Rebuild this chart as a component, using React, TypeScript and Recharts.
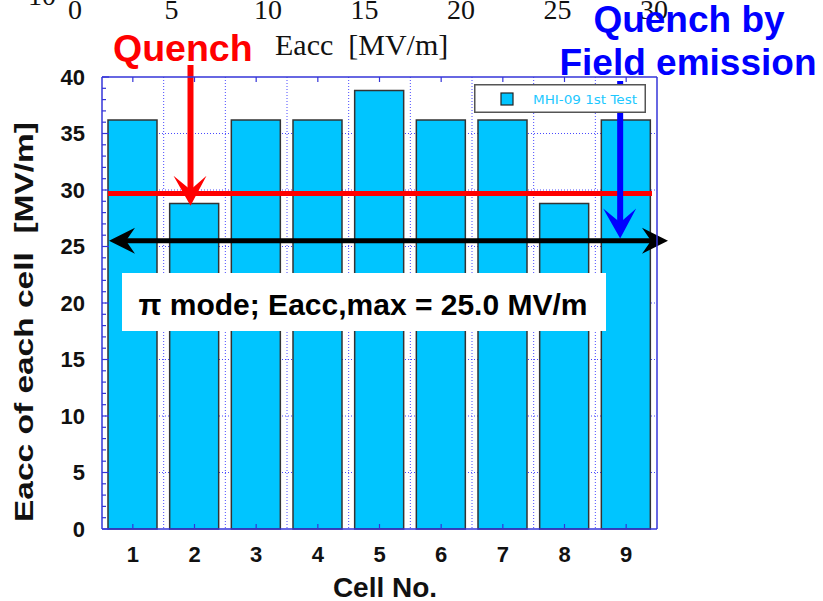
import React from 'react';
import { BarChart, Bar, XAxis, YAxis, CartesianGrid, ReferenceLine, Legend } from 'recharts';

// cell number vs accelerating field reached in that cell
const cells = ['1', '2', '3', '4', '5', '6', '7', '8', '9'];
const eaccPerCell = [36.2, 28.8, 36.2, 36.2, 38.8, 36.2, 36.2, 28.8, 36.2];

const yMax = 40;
const yMinorTicks = Array.from({ length: yMax + 1 }, (_, i) => i);
const yGridValues = [5, 10, 15, 20, 25, 30, 35];

// annotation levels (MV/m)
const quenchLevel = 29.7;
const eaccMaxLevel = 25.5;
const quenchCell = '2';
const quenchTip = 28.6;
const feCell = '9';
const feTip = 25.7;

// leftover top axis from the slide
const strayTopTicks = ['0', '5', '10', '15', '20', '25', '30'];

const data = cells.map((c, i) => ({ cell: c, eacc: eaccPerCell[i] }));

const AXIS = '#3434d8';
const GRID = '#4a4aff';
const FILL = '#00c5ff';
const SANS = '"Liberation Sans", Arial, sans-serif';
const SERIF = '"Liberation Serif", "Times New Roman", serif';

const Y_MARGIN = 17;
const X_MARGIN = 17;

const LeftTick = (props: any) => {
  const { x, y, payload } = props;
  const v = payload.value;
  const major = v % 5 === 0;
  const ax = x + Y_MARGIN;
  return (
    <g>
      <line x1={ax} x2={ax + (major ? 7 : 4)} y1={y} y2={y} stroke={AXIS} strokeWidth={1.2} />
      {major && (
        <text x={x} y={y} dy="0.36em" textAnchor="end" fontFamily={SANS} fontWeight="bold" fontSize={22} fill="#111">
          {v}
        </text>
      )}
    </g>
  );
};

const RightTick = (props: any) => {
  const { x, y, payload } = props;
  const major = payload.value % 5 === 0;
  return <line x1={x} x2={x - (major ? 7 : 4)} y1={y} y2={y} stroke={AXIS} strokeWidth={1.2} />;
};

const BottomTick = (props: any) => {
  const { x, y, payload } = props;
  const ay = y - X_MARGIN;
  return (
    <g>
      <line x1={x} x2={x} y1={ay} y2={ay - 5} stroke={AXIS} strokeWidth={1.2} />
      <text x={x} y={y} dy="0.72em" textAnchor="middle" fontFamily={SANS} fontWeight="bold" fontSize={22} fill="#111">
        {payload.value}
      </text>
    </g>
  );
};

const TopTick = (props: any) => {
  const { x, y } = props;
  const ay = y + 2;
  return <line x1={x} x2={x} y1={ay} y2={ay + 5} stroke={AXIS} strokeWidth={1.2} />;
};

const downArrow = (color: string, dx: number, over: number) => (p: any) => {
  const x = p.x1 + dx;
  const top = Math.min(p.y1, p.y2) - over;
  const tip = Math.max(p.y1, p.y2);
  return (
    <g>
      <line x1={x} x2={x} y1={top} y2={tip - 14} stroke={color} strokeWidth={6} />
      <polygon points={`${x - 17},${tip - 30} ${x},${tip} ${x + 16},${tip - 30} ${x},${tip - 16}`} fill={color} />
    </g>
  );
};

const redLine = (p: any) => (
  <line x1={p.x1 + 6} x2={p.x2 - 5} y1={p.y1} y2={p.y2} stroke="#ff0000" strokeWidth={5} />
);

const doubleArrow = (p: any) => {
  const y = p.y1;
  const l = p.x1 + 7;
  const r = p.x2 + 11;
  return (
    <g>
      <line x1={l + 12} x2={r - 12} y1={y} y2={y} stroke="#000" strokeWidth={5} />
      <polygon points={`${l},${y} ${l + 26},${y - 13} ${l + 17},${y} ${l + 26},${y + 13}`} fill="#000" />
      <polygon points={`${r},${y} ${r - 26},${y - 13} ${r - 17},${y} ${r - 26},${y + 13}`} fill="#000" />
    </g>
  );
};

const LegendBox = () => (
  <svg width={172} height={29} style={{ display: 'block' }}>
    <rect x={0.75} y={0.75} width={170.5} height={27.5} fill="#fff" stroke="#555" strokeWidth={1.5} />
    <rect x={27} y={9} width={12} height={12} fill={FILL} stroke="#222" strokeWidth={1.2} />
    <text x={59} y={20} fontFamily='"DejaVu Sans", sans-serif' fontSize={13} fill="#1ec8ff" textLength={104} lengthAdjust="spacingAndGlyphs">
      MHI-09 1st Test
    </text>
  </svg>
);

export default function App() {
  return (
    <div style={{ position: 'absolute', left: 0, top: 0, width: 823, height: 601, background: '#fff' }}>
      <BarChart
        width={823}
        height={601}
        data={data}
        margin={{ top: 67, right: 156, bottom: 32, left: 42 }}
      >
        <CartesianGrid
          stroke={GRID}
          strokeDasharray="1 2"
          verticalCoordinatesGenerator={({ offset }: any) =>
            cells.slice(1).map((_, i) => offset.left + ((i + 1) * offset.width) / cells.length)
          }
          horizontalCoordinatesGenerator={({ offset }: any) =>
            yGridValues.map((v) => offset.top + offset.height * (1 - v / yMax))
          }
        />
        <XAxis
          dataKey="cell"
          height={40}
          axisLine={{ stroke: AXIS, strokeWidth: 1.5 }}
          tickLine={false}
          tickSize={0}
          tickMargin={X_MARGIN}
          tick={<BottomTick />}
          interval={0}
        />
        <XAxis
          xAxisId="top"
          dataKey="cell"
          orientation="top"
          height={10}
          axisLine={{ stroke: AXIS, strokeWidth: 1.5 }}
          tickLine={false}
          tickSize={0}
          tickMargin={2}
          tick={<TopTick />}
          interval={0}
        />
        <YAxis
          domain={[0, yMax]}
          ticks={yMinorTicks}
          width={60}
          axisLine={{ stroke: AXIS, strokeWidth: 1.5 }}
          tickLine={false}
          tickSize={0}
          tickMargin={Y_MARGIN}
          tick={<LeftTick />}
          interval={0}
        />
        <YAxis
          yAxisId="right"
          orientation="right"
          domain={[0, yMax]}
          ticks={yMinorTicks}
          width={10}
          axisLine={{ stroke: AXIS, strokeWidth: 1.5 }}
          tickLine={false}
          tickSize={0}
          tickMargin={0}
          tick={<RightTick />}
          interval={0}
        />
        <Legend
          layout="vertical"
          align="center"
          verticalAlign="middle"
          wrapperStyle={{ position: 'absolute', left: 474, top: 84, width: 172, height: 29 }}
          content={() => <LegendBox />}
        />
        <Bar dataKey="eacc" name="MHI-09 1st Test" fill={FILL} stroke="#333" strokeWidth={1.5} barSize={49} isAnimationActive={false} />
        <ReferenceLine y={quenchLevel} shape={redLine} />
        <ReferenceLine
          segment={[{ x: feCell, y: yMax }, { x: feCell, y: feTip }]}
          shape={downArrow('#0000ff', -6, -4)}
        />
        <ReferenceLine y={eaccMaxLevel} shape={doubleArrow} />
        <ReferenceLine
          segment={[{ x: quenchCell, y: yMax }, { x: quenchCell, y: quenchTip }]}
          shape={downArrow('#ff0000', -4, 12)}
        />
      </BarChart>
      <svg width={823} height={601} style={{ position: 'absolute', left: 0, top: 0, pointerEvents: 'none' }}>
        <text x={42} y={5} textAnchor="middle" fontFamily={SERIF} fontSize={28} fill="#111">10</text>
        {strayTopTicks.map((t, i) => (
          <text key={t} x={75 + i * 96.5} y={19} textAnchor="middle" fontFamily={SERIF} fontSize={28} fill="#111">
            {t}
          </text>
        ))}
        <text x={275} y={55} fontFamily={SERIF} fontSize={30} fill="#111" xmlSpace="preserve">Eacc  [MV/m]</text>
        <text x={113} y={61} fontFamily={SANS} fontWeight="bold" fontSize={37.5} fill="#ff0000">Quench</text>
        <text x={689} y={32} textAnchor="middle" fontFamily={SANS} fontWeight="bold" fontSize={37} fill="#0000ff">Quench by</text>
        <text x={688} y={75} textAnchor="middle" fontFamily={SANS} fontWeight="bold" fontSize={37} fill="#0000ff">Field emission</text>
        <rect x={122} y={273} width={484} height={58} fill="#fff" />
        <text x={363} y={315} textAnchor="middle" fontFamily={SANS} fontWeight="bold" fontSize={30} fill="#000">
          π mode; Eacc,max = 25.0 MV/m
        </text>
        <text
          transform="translate(33,322) rotate(-90)"
          textAnchor="middle"
          fontFamily={SANS}
          fontWeight="bold"
          fontSize={25}
          fill="#111"
          textLength={400}
          lengthAdjust="spacingAndGlyphs"
          xmlSpace="preserve"
        >
          Eacc of each cell  [MV/m]
        </text>
        <text x={385} y={597} textAnchor="middle" fontFamily={SANS} fontWeight="bold" fontSize={28} fill="#111">Cell No.</text>
      </svg>
    </div>
  );
}
